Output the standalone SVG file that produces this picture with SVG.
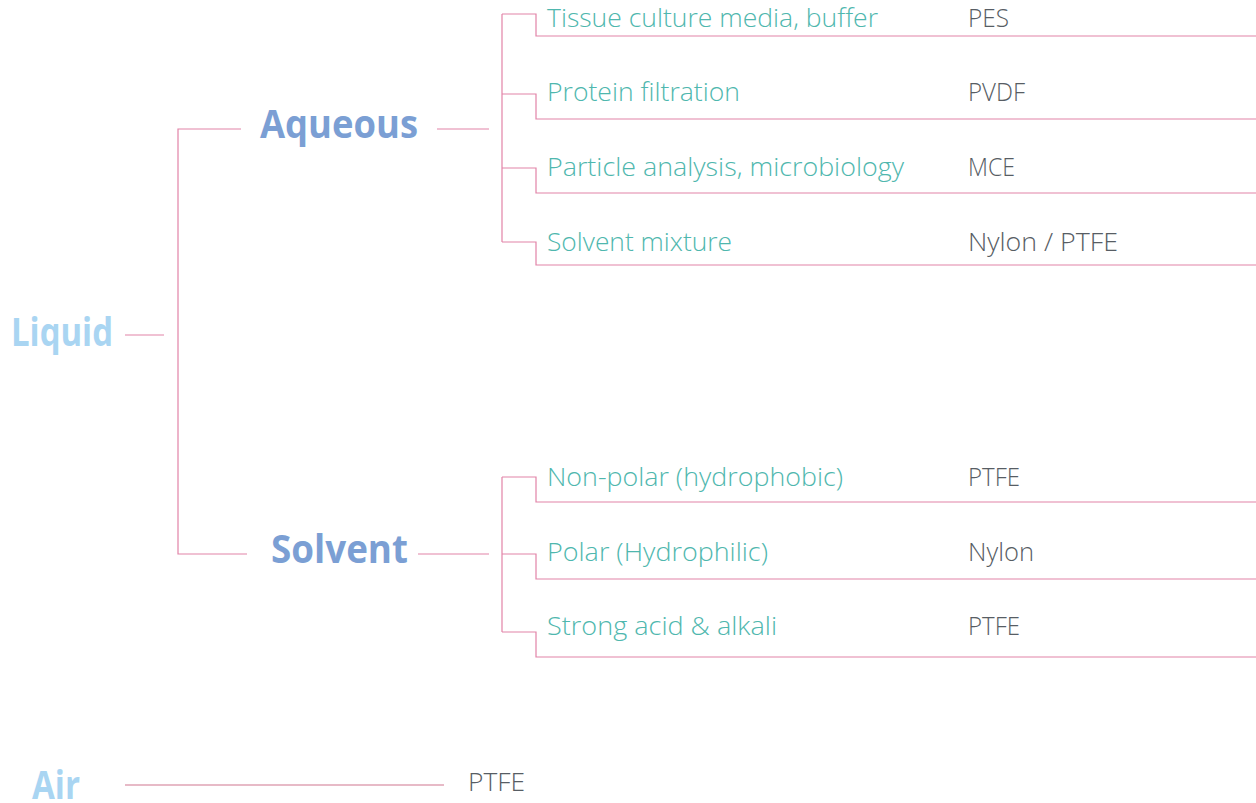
<svg xmlns="http://www.w3.org/2000/svg" width="1256" height="803" viewBox="0 0 1256 803">
<style>
.ln{fill:none;stroke:#e283a7;stroke-width:1.2}
.air{fill:none;stroke:#cf7690;stroke-width:1.2}
.top{font-family:"Open Sans","Noto Sans","Liberation Sans",sans-serif;font-weight:700;font-size:40px;fill:#a9d5f2}
.mid{font-family:"Open Sans","Noto Sans","Liberation Sans",sans-serif;font-weight:700;font-size:40px;fill:#7b9fd4}
.use{font-family:"Open Sans","Noto Sans","Liberation Sans",sans-serif;font-weight:300;font-size:26px;fill:#4fb7ae}
.mat{font-family:"Open Sans","Noto Sans","Liberation Sans",sans-serif;font-weight:300;font-size:26px;fill:#575d64}
</style>
<rect width="1256" height="803" fill="#ffffff"/>
<g id="connectors">
<path class="ln" d="M125,335 H164"/>
<path class="ln" d="M241,129 H178 V554 H247"/>
<path class="ln" d="M437,129 H489"/>
<path class="ln" d="M418,554 H489"/>
<path class="ln" d="M502,14 V242"/>
<path class="ln" d="M502,14 H536 V36 H1256"/>
<path class="ln" d="M502,94 H536 V119 H1256"/>
<path class="ln" d="M502,168 H536 V193 H1256"/>
<path class="ln" d="M502,242 H536 V265 H1256"/>
<path class="ln" d="M502,477 V632"/>
<path class="ln" d="M502,477 H536 V502 H1256"/>
<path class="ln" d="M502,554 H536 V579 H1256"/>
<path class="ln" d="M502,632 H536 V657 H1256"/>
<path class="air" d="M125,785 H444"/>
</g>
<g id="liquid"><text class="top" x="11" y="346" textLength="102" lengthAdjust="spacingAndGlyphs">Liquid</text></g>
<g id="aqueous"><text class="mid" x="260" y="138" textLength="158" lengthAdjust="spacingAndGlyphs">Aqueous</text></g>
<g id="solvent"><text class="mid" x="271" y="563" textLength="137" lengthAdjust="spacingAndGlyphs">Solvent</text></g>
<g id="air"><text class="top" x="32" y="799" textLength="48" lengthAdjust="spacingAndGlyphs">Air</text></g>
<g id="tissue"><text class="use" x="547" y="27" textLength="331" lengthAdjust="spacingAndGlyphs">Tissue culture media, buffer</text><text class="mat" x="968" y="27" textLength="41" lengthAdjust="spacingAndGlyphs">PES</text></g>
<g id="protein"><text class="use" x="547" y="101" textLength="193" lengthAdjust="spacingAndGlyphs">Protein filtration</text><text class="mat" x="968" y="101" textLength="57" lengthAdjust="spacingAndGlyphs">PVDF</text></g>
<g id="particle"><text class="use" x="547" y="176" textLength="357" lengthAdjust="spacingAndGlyphs">Particle analysis, microbiology</text><text class="mat" x="968" y="176" textLength="47" lengthAdjust="spacingAndGlyphs">MCE</text></g>
<g id="mixture"><text class="use" x="547" y="251" textLength="185" lengthAdjust="spacingAndGlyphs">Solvent mixture</text><text class="mat" x="968" y="251" textLength="150" lengthAdjust="spacingAndGlyphs">Nylon / PTFE</text></g>
<g id="nonpolar"><text class="use" x="547" y="486" textLength="296" lengthAdjust="spacingAndGlyphs">Non-polar (hydrophobic)</text><text class="mat" x="968" y="486" textLength="52" lengthAdjust="spacingAndGlyphs">PTFE</text></g>
<g id="polar"><text class="use" x="547" y="561" textLength="221" lengthAdjust="spacingAndGlyphs">Polar (Hydrophilic)</text><text class="mat" x="968" y="561" textLength="66" lengthAdjust="spacingAndGlyphs">Nylon</text></g>
<g id="acid"><text class="use" x="547" y="635" textLength="230" lengthAdjust="spacingAndGlyphs">Strong acid &amp; alkali</text><text class="mat" x="968" y="635" textLength="52" lengthAdjust="spacingAndGlyphs">PTFE</text></g>
<g id="air-ptfe"><text class="mat" x="468" y="791" textLength="57" lengthAdjust="spacingAndGlyphs">PTFE</text></g>
</svg>
